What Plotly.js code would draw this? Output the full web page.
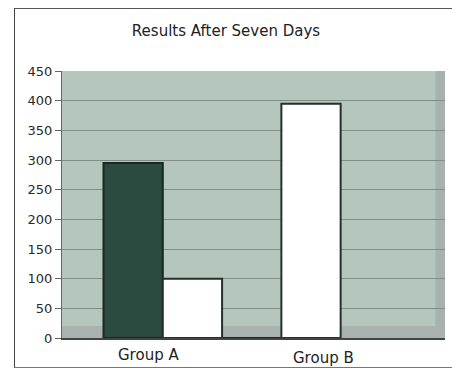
<!DOCTYPE html>
<html><head><meta charset="utf-8">
<script src="https://cdn.plot.ly/plotly-3.0.1.min.js"></script>
<style>
html,body{margin:0;padding:0;background:#fff;}
#wrap{position:relative;width:452px;height:370px;}
#frame{position:absolute;left:14px;top:8px;width:440px;height:358px;border-left:1.5px solid #444;border-top:1.5px solid #555;border-bottom:1px solid #777;}
#chart{position:absolute;left:0;top:0;width:452px;height:370px;}
</style></head>
<body><div id="wrap"><div id="frame"></div><div id="chart"></div></div>
<script>
const categories = ['Group A', 'Group B'];
const seriesDark = [295, 0];
const seriesWhite = [100, 395];
const yTicks = [0, 50, 100, 150, 200, 250, 300, 350, 400, 450];

const traces = [
  {type:'bar', x:categories, y:seriesDark, name:'Series 1',
   marker:{color:'#2b4a40', line:{color:'#1a2823', width:2}}},
  {type:'bar', x:categories, y:seriesWhite, name:'Series 2',
   marker:{color:'#ffffff', line:{color:'#26302c', width:2}}}
];

const layout = {
  width:452, height:370,
  margin:{l:62, r:7, t:71, b:32},
  paper_bgcolor:'rgba(0,0,0,0)',
  plot_bgcolor:'#b5c6be',
  showlegend:false,
  barmode:'group', bargap:0.0, bargroupgap:0,
  title:{text:'Results After Seven Days', x:0.5, xref:'container', y:0.93, yref:'container',
         font:{family:'DejaVu Sans', size:15, color:'#222'}},
  font:{family:'DejaVu Sans', size:12, color:'#333'},
  xaxis:{type:'category', range:[-0.85, 2.38], showticklabels:false, ticks:'',
         showline:true, linecolor:'#444', linewidth:1.5, fixedrange:true},
  yaxis:{range:[0,450], tickvals:yTicks, ticktext:yTicks.map(String),
         ticks:'outside', ticklen:6, tickcolor:'#666',
         showgrid:true, gridcolor:'#7f8f88', gridwidth:1,
         showline:true, linecolor:'#666', linewidth:1, zeroline:false,
         tickfont:{family:'DejaVu Sans', size:13, color:'#2a2a2a'}},
  shapes:[
    {type:'rect', xref:'paper', yref:'paper', x0:0.975, x1:1, y0:0, y1:1,
     fillcolor:'#a9b1ae', line:{width:0}, layer:'below'},
    {type:'rect', xref:'paper', yref:'paper', x0:0, x1:1, y0:0, y1:0.045,
     fillcolor:'#aab2af', line:{width:0}, layer:'below'}
  ],
  annotations:[
    {text:categories[0], xref:'paper', yref:'paper', x:0.225, xanchor:'center', y:0, yanchor:'top', yshift:-6, showarrow:false,
     font:{family:'DejaVu Sans', size:15, color:'#222'}},
    {text:categories[1], xref:'paper', yref:'paper', x:0.684, xanchor:'center', y:0, yanchor:'top', yshift:-9, showarrow:false,
     font:{family:'DejaVu Sans', size:15, color:'#222'}}
  ]
};
Plotly.newPlot('chart', traces, layout, {displayModeBar:false, staticPlot:true});
</script></body></html>
